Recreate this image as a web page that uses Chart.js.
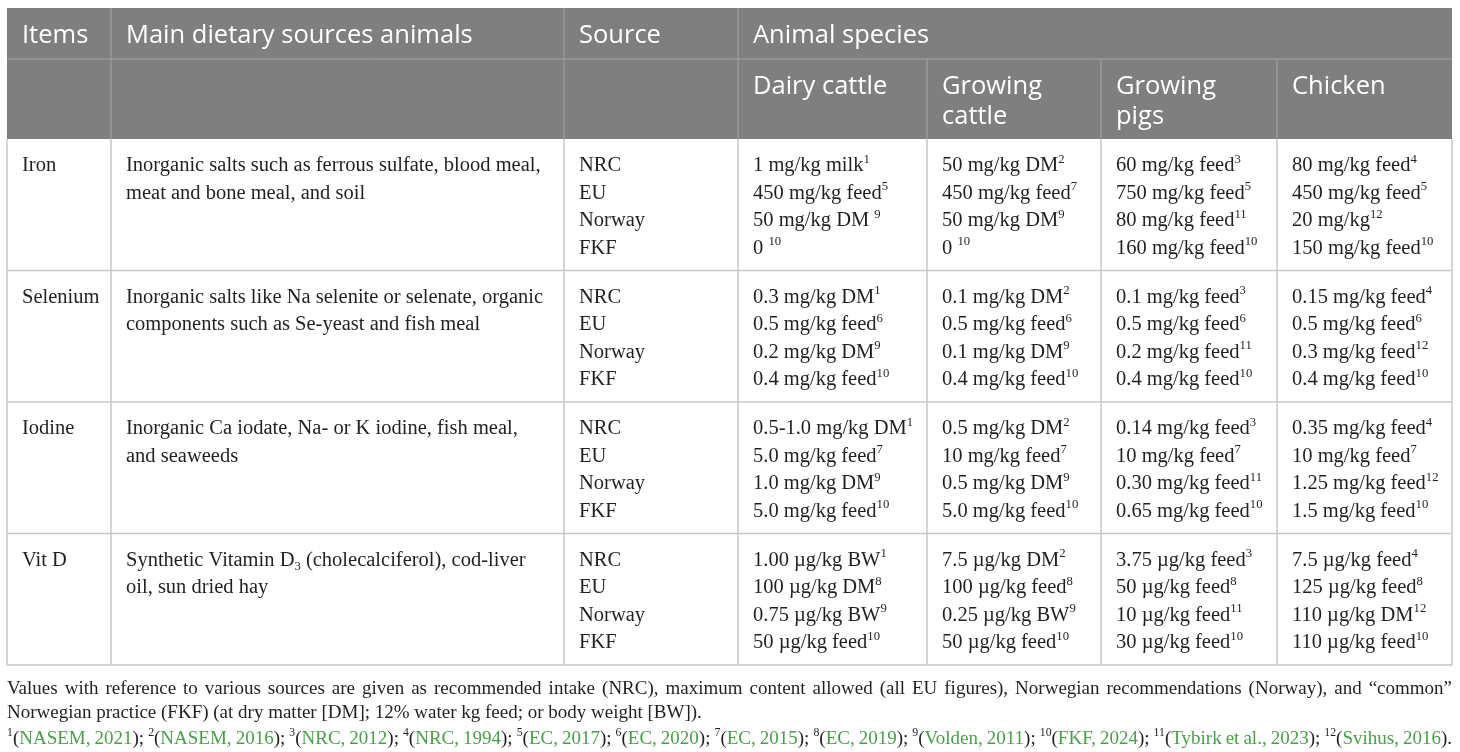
<!DOCTYPE html>
<html>
<head>
<meta charset="utf-8">
<title>Dietary sources and recommendations</title>
<script src="https://cdn.jsdelivr.net/npm/chart.js@4.4.1/dist/chart.umd.min.js"></script>
<style>
  html, body { margin: 0; padding: 0; background: #fff; }
  canvas { display: block; }
</style>
</head>
<body>
<canvas id="tableChart" width="1460" height="752"></canvas>
<script>
// table content: ^n = superscript, ~n = subscript
const items = ['Iron', 'Selenium', 'Iodine', 'Vit D'];
const dietarySources = [
    ['Inorganic salts such as ferrous sulfate, blood meal,', 'meat and bone meal, and soil'],
    ['Inorganic salts like Na selenite or selenate, organic', 'components such as Se-yeast and fish meal'],
    ['Inorganic Ca iodate, Na- or K iodine, fish meal,', 'and seaweeds'],
    ['Synthetic Vitamin D~3 (cholecalciferol), cod-liver', 'oil, sun dried hay']
];
const sourceNames = ['NRC', 'EU', 'Norway', 'FKF'];
const headerLabels = ['Items', 'Main dietary sources animals', 'Source', 'Animal species'];
const speciesLabels = [['Dairy cattle'], ['Growing', 'cattle'], ['Growing', 'pigs'], ['Chicken']];

const dairyCattle = [
    ['1 mg/kg milk^1', '450 mg/kg feed^5', '50 mg/kg DM ^9', '0 ^10'],
    ['0.3 mg/kg DM^1', '0.5 mg/kg feed^6', '0.2 mg/kg DM^9', '0.4 mg/kg feed^10'],
    ['0.5-1.0 mg/kg DM^1', '5.0 mg/kg feed^7', '1.0 mg/kg DM^9', '5.0 mg/kg feed^10'],
    ['1.00 µg/kg BW^1', '100 µg/kg DM^8', '0.75 µg/kg BW^9', '50 µg/kg feed^10']
];
const growingCattle = [
    ['50 mg/kg DM^2', '450 mg/kg feed^7', '50 mg/kg DM^9', '0 ^10'],
    ['0.1 mg/kg DM^2', '0.5 mg/kg feed^6', '0.1 mg/kg DM^9', '0.4 mg/kg feed^10'],
    ['0.5 mg/kg DM^2', '10 mg/kg feed^7', '0.5 mg/kg DM^9', '5.0 mg/kg feed^10'],
    ['7.5 µg/kg DM^2', '100 µg/kg feed^8', '0.25 µg/kg BW^9', '50 µg/kg feed^10']
];
const growingPigs = [
    ['60 mg/kg feed^3', '750 mg/kg feed^5', '80 mg/kg feed^11', '160 mg/kg feed^10'],
    ['0.1 mg/kg feed^3', '0.5 mg/kg feed^6', '0.2 mg/kg feed^11', '0.4 mg/kg feed^10'],
    ['0.14 mg/kg feed^3', '10 mg/kg feed^7', '0.30 mg/kg feed^11', '0.65 mg/kg feed^10'],
    ['3.75 µg/kg feed^3', '50 µg/kg feed^8', '10 µg/kg feed^11', '30 µg/kg feed^10']
];
const chicken = [
    ['80 mg/kg feed^4', '450 mg/kg feed^5', '20 mg/kg^12', '150 mg/kg feed^10'],
    ['0.15 mg/kg feed^4', '0.5 mg/kg feed^6', '0.3 mg/kg feed^12', '0.4 mg/kg feed^10'],
    ['0.35 mg/kg feed^4', '10 mg/kg feed^7', '1.25 mg/kg feed^12', '1.5 mg/kg feed^10'],
    ['7.5 µg/kg feed^4', '125 µg/kg feed^8', '110 µg/kg DM^12', '110 µg/kg feed^10']
];

const footnoteLines = [
    'Values with reference to various sources are given as recommended intake (NRC), maximum content allowed (all EU figures), Norwegian recommendations (Norway), and \u201Ccommon\u201D',
    'Norwegian practice (FKF) (at dry matter [DM]; 12% water kg feed; or body weight [BW]).'
];
const refLabels = ['NASEM, 2021', 'NASEM, 2016', 'NRC, 2012', 'NRC, 1994', 'EC, 2017', 'EC, 2020',
    'EC, 2015', 'EC, 2019', 'Volden, 2011', 'FKF, 2024', 'Tybirk et al., 2023', 'Svihus, 2016'];

// layout (pixel units of the hidden scales)
const colEdges = [7, 111, 564, 738, 927, 1101, 1277, 1452];
const rowEdges = [8, 59, 139, 270.5, 402, 533.5, 665];
const padX = 15;
const lineStep = 27.5;
const headFont = '"Open Sans", "Noto Sans", sans-serif';
const bodyFont = '"Liberation Serif", "DejaVu Serif", serif';
const headGrey = '#7f7f7f';
const textColor = '#231f20';
const refGreen = '#4a9e4a';

function drawRich(ctx, str, x, y, size, family, color) {
    const parts = str.split(/([\^~]\d+)/);
    let cx = x;
    parts.forEach(p => {
        if (!p) return;
        let sz = size, dy = 0, t = p;
        if (p[0] === '^') { t = p.slice(1); sz = size * 0.62; dy = -size * 0.4; }
        else if (p[0] === '~') { t = p.slice(1); sz = size * 0.62; dy = size * 0.2; }
        ctx.font = sz + 'px ' + family;
        ctx.fillStyle = color;
        ctx.fillText(t, cx, y + dy);
        cx += ctx.measureText(t).width;
    });
    return cx;
}

// split segments [{t, c, sup}] into words on spaces
function toWords(segments) {
    const words = [[]];
    segments.forEach(s => {
        const bits = s.t.split(' ');
        bits.forEach((b, i) => {
            if (i > 0) words.push([]);
            if (b) words[words.length - 1].push({ t: b, c: s.c, sup: s.sup });
        });
    });
    return words.filter(w => w.length);
}

function segWidth(ctx, s, size) {
    ctx.font = (s.sup ? size * 0.62 : size) + 'px ' + bodyFont;
    return ctx.measureText(s.t).width;
}

function drawWords(ctx, words, x0, x1, yb, size, justify) {
    const widths = words.map(w => w.reduce((a, s) => a + segWidth(ctx, s, size), 0));
    const total = widths.reduce((a, b) => a + b, 0);
    ctx.font = size + 'px ' + bodyFont;
    const gap = justify ? (x1 - x0 - total) / (words.length - 1) : ctx.measureText(' ').width;
    let cx = x0;
    words.forEach((w, i) => {
        let wx = cx;
        w.forEach(s => {
            const sz = s.sup ? size * 0.62 : size;
            ctx.font = sz + 'px ' + bodyFont;
            ctx.fillStyle = s.c || textColor;
            ctx.fillText(s.t, wx, s.sup ? yb - size * 0.4 : yb);
            wx += ctx.measureText(s.t).width;
        });
        cx += widths[i] + gap;
    });
}

const tablePlugin = {
    id: 'tablePlugin',
    afterDraw(chart) {
        const ctx = chart.ctx;
        const X = v => chart.scales.x.getPixelForValue(v);
        const Y = v => chart.scales.y.getPixelForValue(v);
        const speciesCols = [dairyCattle, growingCattle, growingPigs, chicken];
        ctx.save();
        ctx.textBaseline = 'alphabetic';
        ctx.textAlign = 'left';

        // header background
        ctx.fillStyle = headGrey;
        ctx.fillRect(X(colEdges[0]), Y(rowEdges[0]), X(colEdges[7]) - X(colEdges[0]), Y(rowEdges[2]) - Y(rowEdges[0]));

        // header lines
        ctx.strokeStyle = '#a3a3a3';
        ctx.lineWidth = 1;
        ctx.beginPath();
        ctx.moveTo(X(colEdges[0]), Y(rowEdges[1]));
        ctx.lineTo(X(colEdges[7]), Y(rowEdges[1]));
        [1, 2, 3].forEach(c => { ctx.moveTo(X(colEdges[c]), Y(rowEdges[0])); ctx.lineTo(X(colEdges[c]), Y(rowEdges[2])); });
        [4, 5, 6].forEach(c => { ctx.moveTo(X(colEdges[c]), Y(rowEdges[1])); ctx.lineTo(X(colEdges[c]), Y(rowEdges[2])); });
        ctx.stroke();

        // header text
        ctx.fillStyle = '#ffffff';
        ctx.font = '25.5px ' + headFont;
        headerLabels.forEach((h, i) => ctx.fillText(h, X(colEdges[i] + padX), Y(rowEdges[0] + 34.5)));
        speciesLabels.forEach((lines, i) => {
            lines.forEach((l, j) => ctx.fillText(l, X(colEdges[3 + i] + padX), Y(rowEdges[1] + 34.5 + j * 30)));
        });

        // body grid
        ctx.strokeStyle = '#c8c8c8';
        ctx.lineWidth = 1.5;
        ctx.beginPath();
        for (let r = 3; r < rowEdges.length; r++) {
            ctx.moveTo(X(colEdges[0]), Y(rowEdges[r]));
            ctx.lineTo(X(colEdges[7]), Y(rowEdges[r]));
        }
        colEdges.forEach(c => { ctx.moveTo(X(c), Y(rowEdges[2])); ctx.lineTo(X(c), Y(rowEdges[6])); });
        ctx.stroke();

        // body text
        const size = 20.5;
        items.forEach((item, r) => {
            const top = rowEdges[2 + r];
            const base = k => Y(top + 32 + k * lineStep);
            drawRich(ctx, item, X(colEdges[0] + padX), base(0), size, bodyFont, textColor);
            dietarySources[r].forEach((l, k) => drawRich(ctx, l, X(colEdges[1] + padX), base(k), size, bodyFont, textColor));
            sourceNames.forEach((s, k) => drawRich(ctx, s, X(colEdges[2] + padX), base(k), size, bodyFont, textColor));
            speciesCols.forEach((col, c) => {
                col[r].forEach((v, k) => drawRich(ctx, v, X(colEdges[3 + c] + padX), base(k), size, bodyFont, textColor));
            });
        });

        // footnotes
        const fs = 19;
        const left = X(colEdges[0]), right = X(colEdges[7]);
        drawWords(ctx, toWords([{ t: footnoteLines[0] }]), left, right, Y(694), fs, true);
        drawWords(ctx, toWords([{ t: footnoteLines[1] }]), left, right, Y(718), fs, false);
        const refSegs = [];
        refLabels.forEach((lab, i) => {
            refSegs.push({ t: String(i + 1), sup: true });
            refSegs.push({ t: '(' });
            refSegs.push({ t: lab, c: refGreen });
            refSegs.push({ t: i === refLabels.length - 1 ? ').' : '); ' });
        });
        drawWords(ctx, toWords(refSegs), left, right, Y(744), fs, true);
        ctx.restore();
    }
};

new Chart(document.getElementById('tableChart'), {
    type: 'scatter',
    data: { datasets: [] },
    options: {
        responsive: false,
        animation: false,
        events: [],
        layout: { padding: 0 },
        plugins: { legend: { display: false }, tooltip: { enabled: false } },
        scales: {
            x: { type: 'linear', min: 0, max: 1460, display: false },
            y: { type: 'linear', min: 0, max: 752, reverse: true, display: false }
        }
    },
    plugins: [tablePlugin]
});
</script>
</body>
</html>
